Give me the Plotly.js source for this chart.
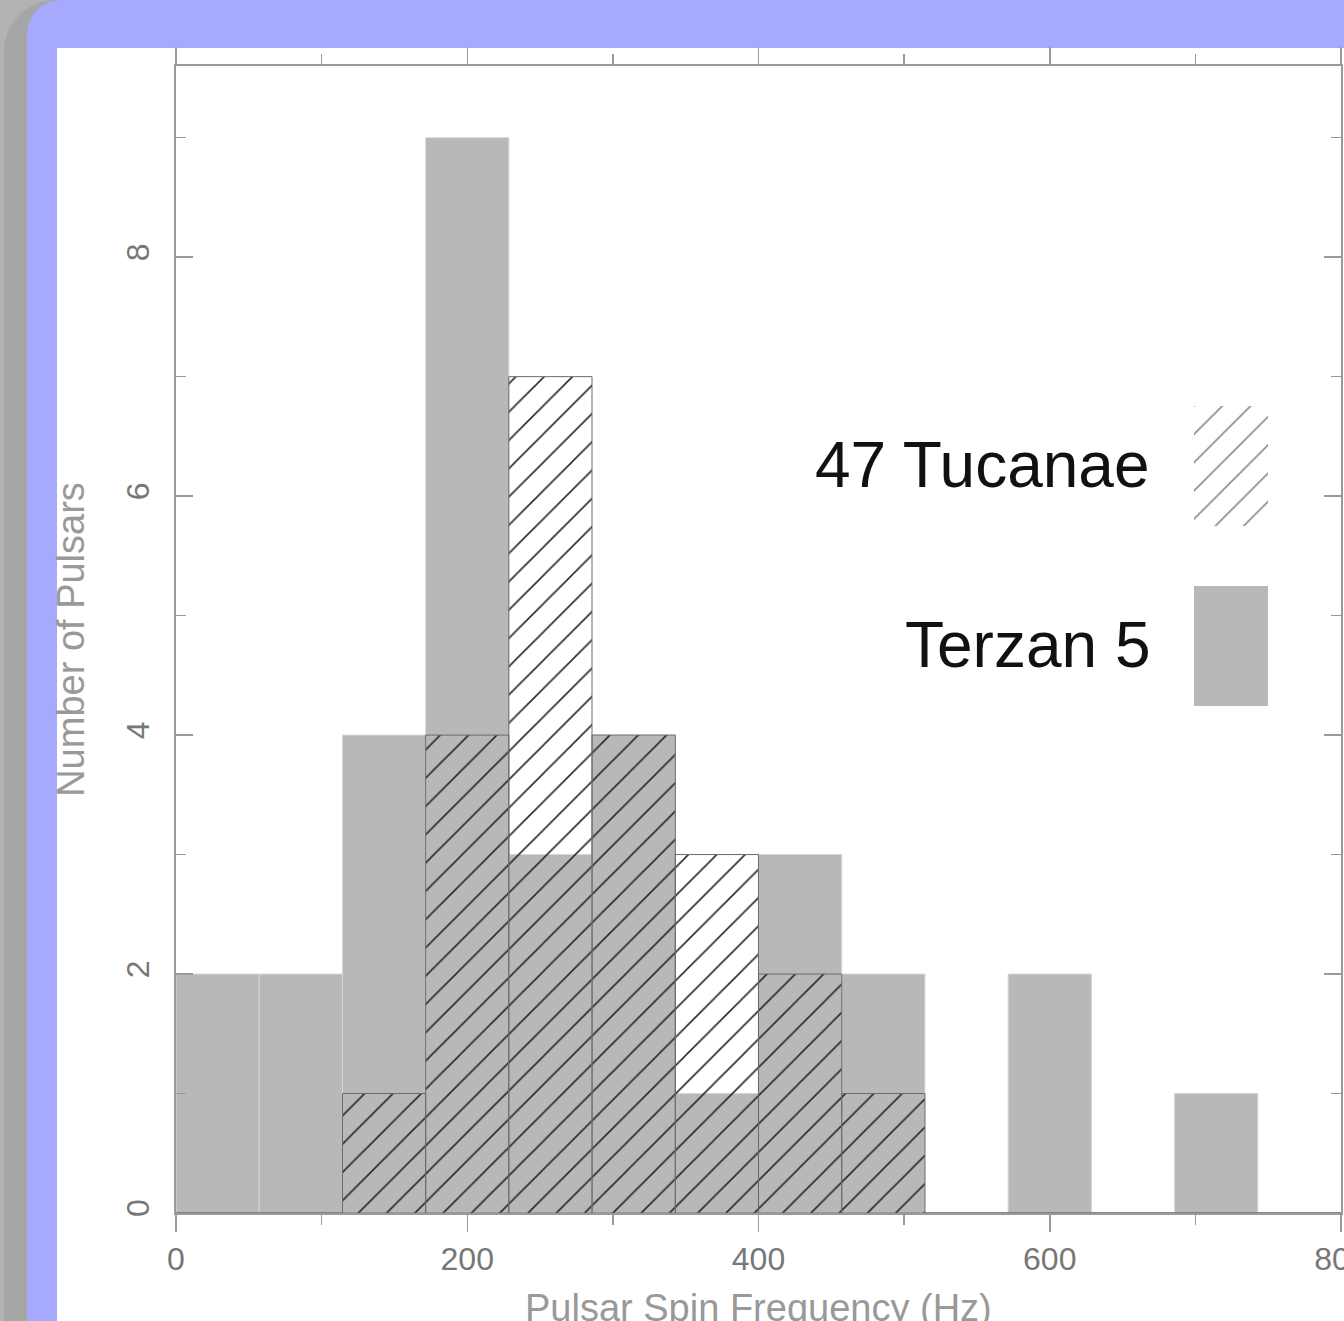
<!DOCTYPE html>
<html>
<head>
<meta charset="utf-8">
<script src="https://cdn.plot.ly/plotly-3.0.1.min.js"></script>
<style>
  html, body { margin:0; padding:0; width:1344px; height:1321px; overflow:hidden; background:#b2b2b2; }
  .layer { position:absolute; }
</style>
</head>
<body>
<div class="layer" style="left:4px;top:0;width:1340px;height:1321px;background:#a6a6a6;border-top-left-radius:52px;"></div>
<div class="layer" style="left:27px;top:0;width:1317px;height:1321px;background:#a7a9fe;border-top-left-radius:34px;"></div>
<div class="layer" style="left:57px;top:48px;width:1287px;height:1273px;background:#ffffff;"></div>
<div id="plot" class="layer" style="left:0;top:0;width:1344px;height:1321px;"></div>
<script>
// Histogram bins (Hz): 14 bins across 0-800 Hz
const binCenters = [28.6, 85.7, 142.9, 200, 257.1, 314.3, 371.4, 428.6, 485.7, 542.9, 600, 657.1, 714.3, 771.4];
const binWidth = 800 / 14;
// Number of pulsars per bin
const terzan5 = [2, 2, 4, 9, 3, 4, 1, 3, 2, 0, 2, 0, 1, 0];
const tuc47   = [0, 0, 1, 4, 7, 4, 3, 2, 1, 0, 0, 0, 0, 0];
const seriesNames = ["47 Tucanae", "Terzan 5"];
const xTickVals = [0, 200, 400, 600, 800];
const yTickVals = [0, 2, 4, 6, 8];
const xTitle = 'Pulsar Spin Frequency (Hz)';
const yTitle = 'Number of Pulsars';

const widths = binCenters.map(() => binWidth);
const axisGray = '#9a9a9a';
const font = 'Liberation Sans, Arial, sans-serif';

const traces = [
  {
    type: 'bar', name: seriesNames[1], x: binCenters, y: terzan5, width: widths,
    marker: { color: '#b8b8b8', line: { color: '#d6d6d6', width: 1 } },
    showlegend: false, hoverinfo: 'skip'
  },
  {
    type: 'bar', name: seriesNames[0], x: binCenters, y: tuc47, width: widths,
    marker: {
      color: 'rgba(0,0,0,0)',
      line: { color: '#6a6a6a', width: 1 },
      pattern: { shape: '/', size: 20, solidity: 0.08, fgcolor: '#2a2a2a', bgcolor: 'rgba(0,0,0,0)', fillmode: 'overlay', fgopacity: 1 }
    },
    showlegend: false, hoverinfo: 'skip'
  },
  // legend swatches
  {
    type: 'bar', x: [0.5], y: [1], width: [1], xaxis: 'x2', yaxis: 'y2',
    marker: {
      color: 'rgba(0,0,0,0)', line: { width: 0 },
      pattern: { shape: '/', size: 20, solidity: 0.08, fgcolor: '#8a8a8a', bgcolor: 'rgba(0,0,0,0)', fillmode: 'overlay', fgopacity: 1 }
    },
    showlegend: false, hoverinfo: 'skip'
  },
  {
    type: 'bar', x: [0.5], y: [1], width: [1], xaxis: 'x3', yaxis: 'y3',
    marker: { color: '#b8b8b8', line: { width: 0 } },
    showlegend: false, hoverinfo: 'skip'
  }
];

const hiddenAxis = { visible: false, range: [0, 1], fixedrange: true, showgrid: false, zeroline: false };

const layout = {
  width: 1344, height: 1321,
  margin: { l: 176, r: 3, t: 66, b: 108, pad: 0 },
  paper_bgcolor: 'rgba(0,0,0,0)',
  plot_bgcolor: 'rgba(0,0,0,0)',
  barmode: 'overlay',
  bargap: 0,
  showlegend: false,
  font: { family: font, color: '#777' },
  xaxis: {
    range: [0, 800], tickmode: 'array', tickvals: xTickVals,
    ticks: 'outside', ticklen: 17, tickwidth: 1.5, tickcolor: axisGray,
    minor: { dtick: 100, tick0: 0, ticks: 'outside', ticklen: 10, tickwidth: 1.5, tickcolor: axisGray, showgrid: false },
    showline: true, linecolor: axisGray, linewidth: 2, mirror: 'allticks',
    showgrid: false, zeroline: false,
    ticklabeloverflow: 'allow',
    tickfont: { family: font, size: 32, color: '#777' },
    ticklabelstandoff: 0
  },
  yaxis: {
    range: [0, 9.6], tickmode: 'array', tickvals: yTickVals, tickangle: -90,
    ticks: 'inside', ticklen: 17, tickwidth: 1.5, tickcolor: axisGray,
    minor: { dtick: 1, tick0: 0, ticks: 'inside', ticklen: 10, tickwidth: 1.5, tickcolor: axisGray, showgrid: false },
    showline: true, linecolor: axisGray, linewidth: 2, mirror: 'allticks',
    showgrid: false, zeroline: false,
    tickfont: { family: font, size: 32, color: '#777' },
    ticklabelstandoff: 12,
    title: { text: yTitle, font: { family: font, size: 38, color: '#999' }, standoff: 24 }
  },
  xaxis2: Object.assign({}, hiddenAxis, { domain: [0.8738, 0.9373], anchor: 'y2' }),
  yaxis2: Object.assign({}, hiddenAxis, { domain: [0.599, 0.7036], anchor: 'x2' }),
  xaxis3: Object.assign({}, hiddenAxis, { domain: [0.8738, 0.9373], anchor: 'y3' }),
  yaxis3: Object.assign({}, hiddenAxis, { domain: [0.442, 0.5466], anchor: 'x3' }),
  annotations: [
    { xref: 'paper', yref: 'paper', x: 0.838, y: 0.652, xanchor: 'right', yanchor: 'middle',
      text: seriesNames[0], showarrow: false, font: { family: font, size: 64, color: '#111' } },
    { xref: 'paper', yref: 'paper', x: 0.838, y: 0.495, xanchor: 'right', yanchor: 'middle',
      text: seriesNames[1], showarrow: false, font: { family: font, size: 64, color: '#111' } },
    { xref: 'paper', yref: 'paper', x: 0.5, y: -0.083, xanchor: 'center', yanchor: 'middle',
      text: xTitle, showarrow: false, font: { family: font, size: 38, color: '#999' } }
  ]
};

Plotly.newPlot('plot', traces, layout, { staticPlot: true, displayModeBar: false });
</script>
</body>
</html>
